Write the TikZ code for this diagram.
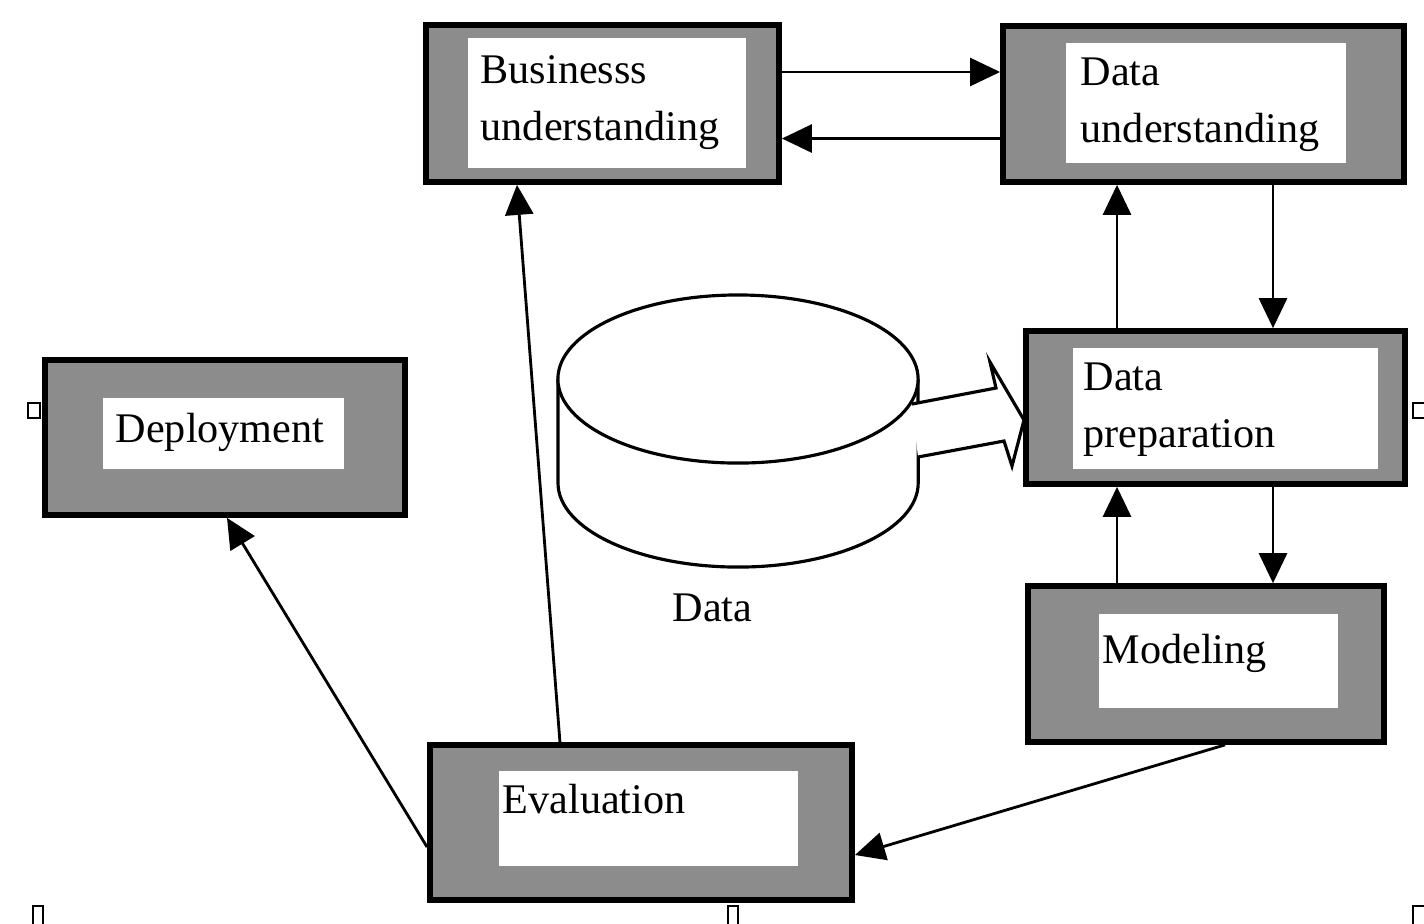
\documentclass[tikz,border=0pt]{standalone}
\usepackage{fontspec}
\setmainfont{Liberation Serif}
\usetikzlibrary{arrows.meta,calc}

\begin{document}
\begin{tikzpicture}[
  x=0.01cm, y=-0.01cm,
  font=\fontsize{12}{16.2}\selectfont,
  stage/.style={draw,line width=1.6pt,fill=black!45,inner sep=0pt},
  pane/.style={fill=white,inner sep=0pt,anchor=north west},
  lbl/.style={anchor=north west,inner sep=0pt,align=left},
  cyl/.style={line width=0.9pt,fill=white},
  fl/.style={-{Triangle[length=3mm,width=2.8mm]},line width=0.8pt},
  handle/.style={draw,line width=0.8pt,fill=white},
]
\useasboundingbox (0,0) rectangle (1424,923);
% stages
\node[stage,minimum width=3.53cm,minimum height=1.57cm] (bu) at (602.5,103.5) {};
\node[pane,minimum width=2.78cm,minimum height=1.30cm] (bu-in) at (467,37) {};
\node[lbl] (bu-t) at (480,55) {Businesss\\understanding};
\node[stage,minimum width=4.01cm,minimum height=1.56cm] (du) at (1203.5,104) {};
\node[pane,minimum width=2.80cm,minimum height=1.20cm] (du-in) at (1065,42) {};
\node[lbl] (du-t) at (1080,57) {Data\\understanding};
\node[stage,minimum width=3.79cm,minimum height=1.53cm] (dp) at (1215.5,407.5) {};
\node[pane,minimum width=3.05cm,minimum height=1.21cm] (dp-in) at (1072,347) {};
\node[lbl] (dp-t) at (1083,362) {Data\\preparation};
\node[stage,minimum width=3.56cm,minimum height=1.56cm] (mo) at (1206,664) {};
\node[pane,minimum width=2.39cm,minimum height=0.94cm] (mo-in) at (1098,613) {};
\node[lbl] (mo-t) at (1102,633) {Modeling};
\node[stage,minimum width=4.22cm,minimum height=1.55cm] (ev) at (641,822.5) {};
\node[pane,minimum width=2.99cm,minimum height=0.95cm] (ev-in) at (498,770) {};
\node[lbl] (ev-t) at (502,783) {Evaluation};
\node[stage,minimum width=3.60cm,minimum height=1.55cm] (de) at (225,437.5) {};
\node[pane,minimum width=2.41cm,minimum height=0.71cm] (de-in) at (102,397) {};
\node[lbl] (de-t) at (115,412) {Deployment};
% data store
\draw[cyl] (558,379) -- (558,483) arc[start angle=180,end angle=360,x radius=1.8cm,y radius=0.84cm] -- (918,379);
\draw[cyl] (738,379) ellipse[x radius=1.8cm,y radius=0.84cm];
\node[anchor=north,inner sep=0pt] (db-t) at (712.5,593) {Data};
\draw[cyl] (912,404) -- (996,388) -- (990,362) -- (1024,420) -- (1012,466) -- (1004,441) -- (918,457);
% main flow
\coordinate (xL) at (1117,0);
\coordinate (xR) at (1273,0);
\draw[fl] ([yshift=3.15mm]bu.east) -- ([yshift=3.15mm]bu.east -| du.west);
\draw[fl] ([yshift=-3.45mm]du.west) -- ([yshift=-3.45mm]du.west -| bu.east);
\draw[fl] (du.south -| xR) -- (dp.north -| xR);
\draw[fl] (dp.north -| xL) -- (du.south -| xL);
\draw[fl] (dp.south -| xR) -- (mo.north -| xR);
\draw[fl] (mo.north -| xL) -- (dp.south -| xL);
\draw[fl] ([xshift=1.9mm]mo.south) -- ([yshift=-3.25mm]ev.east);
\draw[fl] ([xshift=-8.1mm]ev.north) -- ([xshift=-8.55mm]bu.south);
\draw[fl] ([yshift=-2.45mm]ev.west) -- ([xshift=0.2mm]de.south);
% handles
\draw[handle] (28,403) rectangle (40,418);
\draw[handle] (1413,403) rectangle (1426,418);
\draw[handle] (33,906) rectangle (43,925);
\draw[handle] (728,906) rectangle (738,925);
\draw[handle] (1413,906) rectangle (1426,925);
\end{tikzpicture}
\end{document}
